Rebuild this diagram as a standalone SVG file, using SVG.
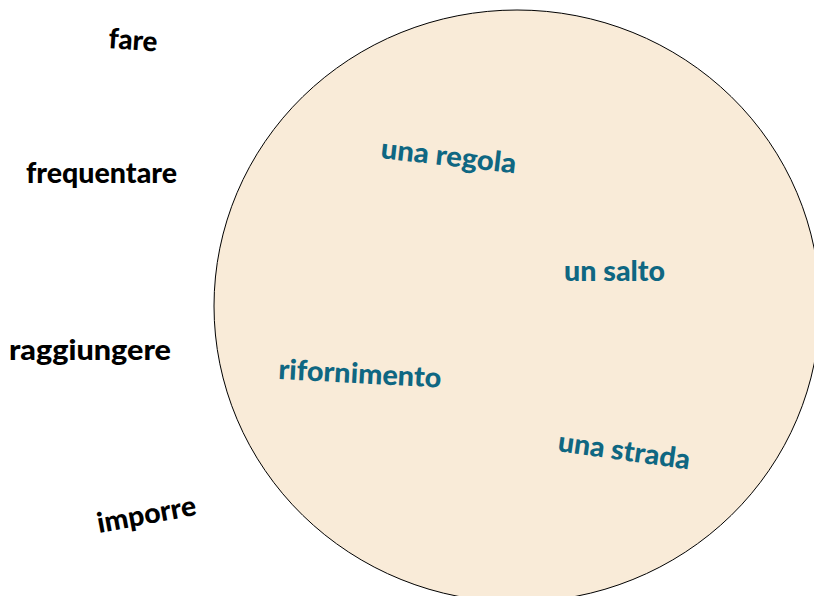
<svg xmlns="http://www.w3.org/2000/svg" width="814" height="596" viewBox="0 0 814 596">
<style>
.v{font-family:Lato,"Open Sans","Liberation Sans",sans-serif;font-weight:900;font-size:28px;fill:#000}
.o{font-family:Lato,"Open Sans","Liberation Sans",sans-serif;font-weight:900;font-size:28px;fill:#0F6782}
</style>
<rect width="814" height="596" fill="#fff"/>
<g id="circle"><ellipse cx="517" cy="306" rx="303" ry="296" fill="#F9EBD8" stroke="#000" stroke-width="1"/></g>
<g id="verbs">
<g id="fare"><text class="v" transform="translate(108,48) rotate(4)" textLength="49" lengthAdjust="spacingAndGlyphs">fare</text></g>
<g id="frequentare"><text class="v" x="26" y="183" textLength="151" lengthAdjust="spacingAndGlyphs">frequentare</text></g>
<g id="raggiungere"><text class="v" x="9" y="360" textLength="162" lengthAdjust="spacingAndGlyphs">raggiungere</text></g>
<g id="imporre"><text class="v" transform="translate(99,533) rotate(-10.5)" textLength="100" lengthAdjust="spacingAndGlyphs">imporre</text></g>
</g>
<g id="objects">
<g id="una-regola"><text class="o" transform="translate(380,158) rotate(6.5)" textLength="136" lengthAdjust="spacingAndGlyphs">una regola</text></g>
<g id="un-salto"><text class="o" x="564" y="281" textLength="101" lengthAdjust="spacingAndGlyphs">un salto</text></g>
<g id="rifornimento"><text class="o" transform="translate(278,379) rotate(3)" textLength="163" lengthAdjust="spacingAndGlyphs">rifornimento</text></g>
<g id="una-strada"><text class="o" transform="translate(557,451) rotate(8)" textLength="133" lengthAdjust="spacingAndGlyphs">una strada</text></g>
</g>
<g id="connectors"/>
</svg>
